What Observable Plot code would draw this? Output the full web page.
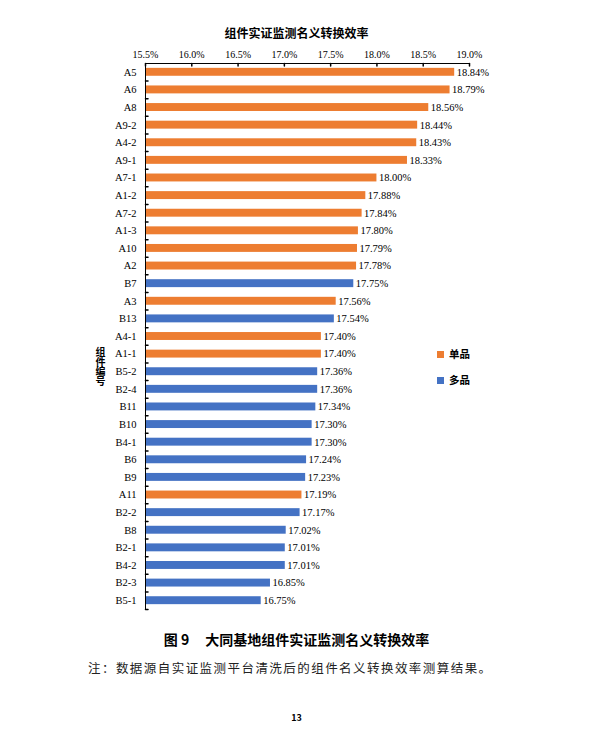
<!DOCTYPE html>
<html><head><meta charset="utf-8">
<script src="https://cdn.jsdelivr.net/npm/d3@7"></script>
<script src="https://cdn.jsdelivr.net/npm/@observablehq/plot@0.6"></script>
<style>
body{margin:0;background:#fff;}
#page{position:relative;width:593px;height:741px;overflow:hidden;background:#fff;}
#chart{position:absolute;left:0;top:0;}
.abs{position:absolute;white-space:nowrap;font-family:"Noto Sans CJK SC","Noto Sans",sans-serif;color:#000;}
.sw{position:absolute;width:7px;height:7px;}
#ytitle{writing-mode:vertical-rl;text-orientation:upright;}
</style></head><body>
<div id="page">
<div id="chart"></div>
<div class="abs" style="left:0;width:593px;top:25px;line-height:16px;text-align:center;font-size:12px;font-weight:700;">组件实证监测名义转换效率</div>
<div class="abs" id="ytitle" style="left:95px;top:347px;width:11px;line-height:11px;font-size:10px;font-weight:700;letter-spacing:-0.3px;"></div>
<div id="legend"></div>
<div class="abs" style="left:0;width:593px;top:630px;line-height:18px;text-align:center;font-size:14px;font-weight:700;"><span>图 9</span><span style="display:inline-block;width:16px"></span><span>大同基地组件实证监测名义转换效率</span></div>
<div class="abs" style="left:88px;top:659px;line-height:18px;font-size:12.5px;letter-spacing:1.45px;color:#222;">注：数据源自实证监测平台清洗后的组件名义转换效率测算结果。</div>
<div class="abs" style="left:0;width:593px;top:712px;line-height:12px;text-align:center;font-size:9px;font-weight:700;">13</div>
</div>
<script>
const names = ["A5","A6","A8","A9-2","A4-2","A9-1","A7-1","A1-2","A7-2","A1-3","A10","A2","B7","A3","B13","A4-1","A1-1","B5-2","B2-4","B11","B10","B4-1","B6","B9","A11","B2-2","B8","B2-1","B4-2","B2-3","B5-1"];
const values = [18.84,18.79,18.56,18.44,18.43,18.33,18.00,17.88,17.84,17.80,17.79,17.78,17.75,17.56,17.54,17.40,17.40,17.36,17.36,17.34,17.30,17.30,17.24,17.23,17.19,17.17,17.02,17.01,17.01,16.85,16.75];
const types = ["单品","单品","单品","单品","单品","单品","单品","单品","单品","单品","单品","单品","多品","单品","多品","单品","单品","多品","多品","多品","多品","多品","多品","多品","单品","多品","多品","多品","多品","多品","多品"];
const xTicks = [15.5,16.0,16.5,17.0,17.5,18.0,18.5,19.0];
const legendTypes = ["单品","多品"];
const legendColors = ["#ED7D31","#4472C4"];
const axisTitle = "组件编号";

const data = names.map((n,i)=>({name:n, value:values[i], type:types[i]}));

const W = 593, H = 741, mt = 63, mb = 132, ml = 145, mr = 124;
const step = (H - mt - mb) / names.length;

const tickDown = {draw(ctx, l){ ctx.moveTo(0,0); ctx.lineTo(0,l); }};
const tickRight = {draw(ctx, l){ ctx.moveTo(0,0); ctx.lineTo(l,0); }};

const chart = Plot.plot({
  width: W, height: H,
  marginTop: mt, marginBottom: mb, marginLeft: ml, marginRight: mr,
  style: {fontFamily: '"Liberation Serif", "Times New Roman", serif', fontSize: "10.5px", color: "#000", background: "transparent"},
  x: {domain: [xTicks[0], xTicks[xTicks.length-1]]},
  y: {domain: names, paddingInner: 0.55, paddingOuter: 0.275, round: false},
  color: {domain: legendTypes, range: legendColors},
  marks: [
    Plot.barX(data, {y: "name", x1: () => xTicks[0], x2: "value", fill: "type"}),
    Plot.text(data, {y: "name", x: "value", text: d => d.value.toFixed(2) + "%", textAnchor: "start", dx: 2, fontSize: 10.5, fill: "#000"}),
    Plot.axisX({anchor: "top", ticks: xTicks, tickSize: 0, tickPadding: 6, tickFormat: d => d.toFixed(1) + "%", fontSize: 10, label: null}),
    Plot.axisY({anchor: "left", tickSize: 0, tickPadding: 9, label: null, fontSize: 10.5}),
    Plot.vector(xTicks, {x: d => d, frameAnchor: "top", length: 2.5, shape: tickDown, anchor: "start", stroke: "#000"}),
    Plot.vector(names, {y: d => d, frameAnchor: "left", length: 2.5, shape: tickRight, anchor: "start", dy: step/2, stroke: "#000"}),
    Plot.frame({anchor: "top", stroke: "#000"}),
    Plot.frame({anchor: "left", stroke: "#000"})
  ]
});
document.getElementById("chart").appendChild(chart);
document.getElementById("ytitle").textContent = axisTitle;

const leg = document.getElementById("legend");
const legTops = [350.5, 377];
legendTypes.forEach((t,i)=>{
  const s = document.createElement("div");
  s.className = "sw";
  s.style.left = "437px"; s.style.top = legTops[i] + "px"; s.style.background = legendColors[i];
  leg.appendChild(s);
  const l = document.createElement("div");
  l.className = "abs";
  l.style.left = "449px"; l.style.top = (legTops[i] - 5) + "px"; l.style.lineHeight = "16px";
  l.style.fontSize = "10.5px"; l.style.fontWeight = "700";
  l.textContent = t;
  leg.appendChild(l);
});
</script>
</body></html>
